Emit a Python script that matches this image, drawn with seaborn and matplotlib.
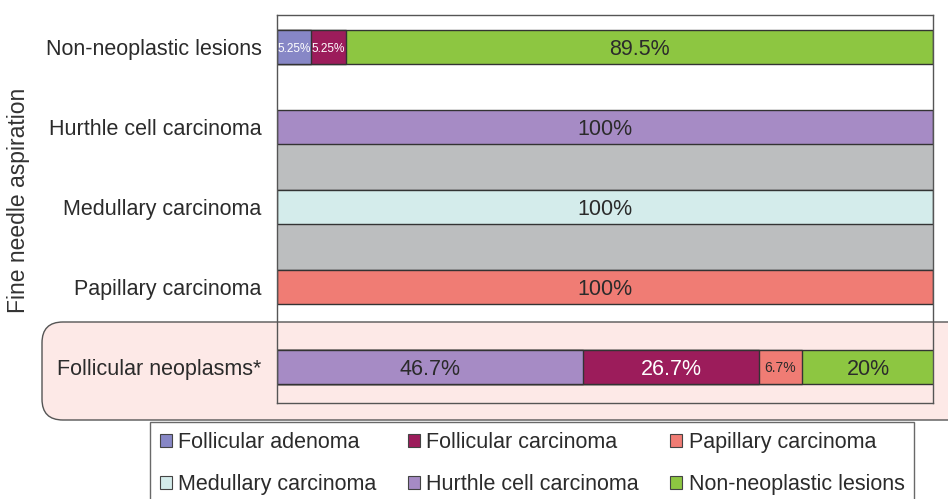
import pandas as pd
import seaborn as sns
import matplotlib.pyplot as plt
from matplotlib.patches import Patch, FancyBboxPatch

# rows of the chart, top to bottom
rows = ['Non-neoplastic lesions', 'Hurthle cell carcinoma', 'Medullary carcinoma',
        'Papillary carcinoma', 'Follicular neoplasms*']

# percentage of each final diagnosis per FNA row (same order as rows)
follicular_adenoma = [5.25, 0, 0, 0, 0]
hurthle_cell = [0, 100, 0, 0, 46.7]
follicular_carcinoma = [5.25, 0, 0, 0, 26.7]
papillary = [0, 0, 0, 100, 6.7]
medullary = [0, 0, 100, 0, 0]
non_neoplastic = [89.5, 0, 0, 0, 20]

# stacking order left to right
series = {
    'Follicular adenoma': follicular_adenoma,
    'Hurthle cell carcinoma': hurthle_cell,
    'Follicular carcinoma': follicular_carcinoma,
    'Papillary carcinoma': papillary,
    'Medullary carcinoma': medullary,
    'Non-neoplastic lesions': non_neoplastic,
}
labels = {
    ('Non-neoplastic lesions', 'Follicular adenoma'): '5.25%',
    ('Non-neoplastic lesions', 'Follicular carcinoma'): '5.25%',
    ('Non-neoplastic lesions', 'Non-neoplastic lesions'): '89.5%',
    ('Hurthle cell carcinoma', 'Hurthle cell carcinoma'): '100%',
    ('Medullary carcinoma', 'Medullary carcinoma'): '100%',
    ('Papillary carcinoma', 'Papillary carcinoma'): '100%',
    ('Follicular neoplasms*', 'Hurthle cell carcinoma'): '46.7%',
    ('Follicular neoplasms*', 'Follicular carcinoma'): '26.7%',
    ('Follicular neoplasms*', 'Papillary carcinoma'): '6.7%',
    ('Follicular neoplasms*', 'Non-neoplastic lesions'): '20%',
}

colors = {
    'Follicular adenoma': '#8787c6',
    'Hurthle cell carcinoma': '#a68bc5',
    'Follicular carcinoma': '#9c1c5b',
    'Papillary carcinoma': '#f07c74',
    'Medullary carcinoma': '#d4eceb',
    'Non-neoplastic lesions': '#8dc641',
}
white_text = {'Follicular carcinoma', 'Follicular adenoma'}
label_sizes = {'5.25%': 8.5, '6.7%': 10}

# long table with cumulative ends for overlay stacking
recs = []
for i, r in enumerate(rows):
    cum = 0
    for cat, vals in series.items():
        v = vals[i]
        if v <= 0:
            continue
        cum += v
        recs.append({'row': r, 'category': cat, 'value': v, 'cum': cum})
df = pd.DataFrame(recs)

sns.set_style('white')
plt.rcParams['font.family'] = ['Liberation Sans', 'DejaVu Sans']
text_col = '#2b2b2b'

fig = plt.figure(figsize=(9.48, 4.99), dpi=100)
ax = fig.add_axes([277 / 948, 1 - 403 / 499, 656 / 948, 388 / 499])
ax.set_facecolor('none')

bar_h = 0.42

# pink highlight behind the follicular neoplasm row
fig.add_artist(FancyBboxPatch((42 / 948, 1 - 420 / 499), 0.98, 98 / 499,
                              boxstyle='round,pad=0,rounding_size=0.022',
                              mutation_aspect=948 / 499,
                              transform=fig.transFigure, facecolor='#fde9e7',
                              edgecolor='#555555', linewidth=1, zorder=-5))

# grey bands between rows
for k in (1, 2):
    ax.axhspan(k + bar_h / 2, k + 1 - bar_h / 2, color='#bcbebf', zorder=0)
    ax.axhline(k + 1 - bar_h / 2, color='#333333', lw=1, zorder=0.5)

for cat in reversed(list(series.keys())):
    sub = df[df['category'] == cat]
    if sub.empty:
        continue
    sns.barplot(data=sub, x='cum', y='row', order=rows, orient='h',
                color=colors[cat], saturation=1, width=bar_h, errorbar=None,
                edgecolor='#333333', linewidth=1, ax=ax, zorder=2)

for _, rec in df.iterrows():
    txt = labels[(rec['row'], rec['category'])]
    y = rows.index(rec['row'])
    x = rec['cum'] - rec['value'] / 2
    col = 'white' if rec['category'] in white_text else text_col
    ax.text(x, y, txt, ha='center', va='center_baseline', color=col,
            fontsize=label_sizes.get(txt, 15.5), zorder=5)

ax.set_xlim(0, 100)
ax.set_ylim(4.45, -0.4)
ax.set_xticks([])
ax.set_xlabel('')
ax.set_ylabel('')
ax.tick_params(axis='y', length=0, pad=11, labelsize=15.5, labelcolor=text_col)
for s in ax.spines.values():
    s.set_visible(True)
    s.set_color('#555555')
    s.set_linewidth(1)

fig.text(19 / 948, 1 - 200 / 499, 'Fine needle aspiration', rotation=90,
         ha='center', va='center', fontsize=16.5, color='#333333')

order = ['Follicular adenoma', 'Medullary carcinoma', 'Follicular carcinoma',
         'Hurthle cell carcinoma', 'Papillary carcinoma', 'Non-neoplastic lesions']
handles = [Patch(facecolor=colors[c], edgecolor='#444444', linewidth=0.8, label=c)
           for c in order]
leg = fig.legend(handles=handles, ncol=3, loc='upper left',
                 bbox_to_anchor=(150 / 948, 1 - 422 / 499), fontsize=15.5,
                 frameon=True, fancybox=False, edgecolor='#444444',
                 handlelength=0.55, handleheight=0.55, handletextpad=0.3,
                 columnspacing=1.47, labelspacing=1.0, borderpad=0.45,
                 borderaxespad=0)
leg.get_frame().set_linewidth(1)
for t in leg.get_texts():
    t.set_color(text_col)

fig.savefig('out.png', dpi=100)
